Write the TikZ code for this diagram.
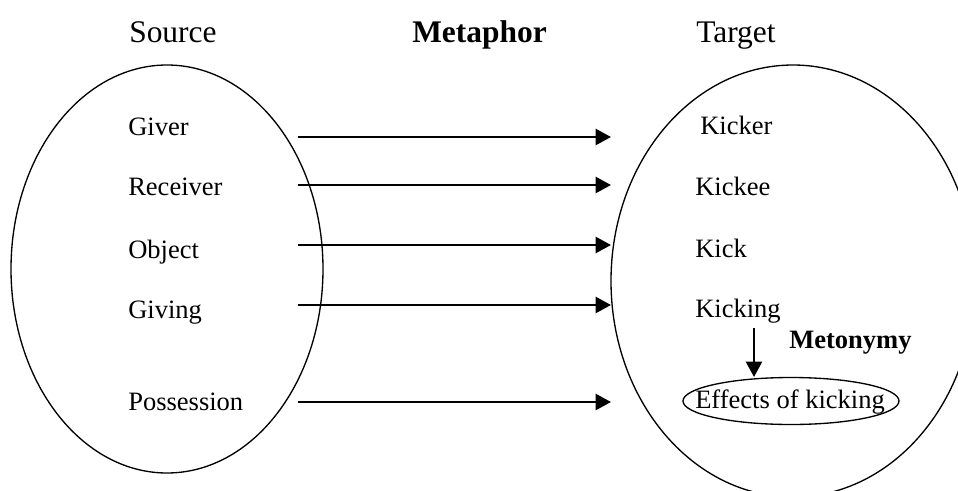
\documentclass[tikz,border=0pt]{standalone}
\usepackage{fontspec}
\setmainfont{Liberation Serif}
\usetikzlibrary{arrows.meta}

\tikzset{
  item/.style={anchor=base west, inner sep=0pt, font=\fontsize{19.9}{24}\selectfont},
  heading/.style={anchor=base west, inner sep=0pt, font=\fontsize{23.6}{28}\selectfont},
  mapping/.style={-{Triangle[length=11.5pt,width=12pt]}, line width=1.8pt},
  rim/.style={line width=1pt},
}

\begin{document}
\begin{tikzpicture}[x=0.75pt,y=-0.75pt]
    \useasboundingbox (0,0) rectangle (958,490);
    \clip (0,0) rectangle (958,490);

    % headings
    \node[heading] (source) at (129,42) {Source};
    \node[heading] (metaphor) at (412,42) {\textbf{Metaphor}};
    \node[heading] (target) at (696,42) {Target};

    % the two domains
    \draw[rim] (167,269) ellipse [x radius=156, y radius=204];
    \draw[rim] (793,281) ellipse [x radius=182, y radius=216];

    % source side
    \node[item] (giver) at (128,135) {Giver};
    \node[item] (receiver) at (128,195) {Receiver};
    \node[item] (object) at (128,258) {Object};
    \node[item] (giving) at (128,318) {Giving};
    \node[item] (possession) at (128,410) {Possession};

    % target side
    \node[item] (kicker) at (700,134) {Kicker};
    \node[item] (kickee) at (695,195) {Kickee};
    \node[item] (kick) at (695,257) {Kick};
    \node[item] (kicking) at (695,317) {Kicking};
    \node[item] (effects) at (695,408) {Effects of kicking};
    \draw[rim] (791,401) ellipse [x radius=108, y radius=23.5];
    \node[item] (metonymy) at (789,348) {\textbf{Metonymy}};

    % metaphorical mappings
    \foreach \n/\y in {1/137, 2/185, 3/245, 4/305, 5/402} {
        \coordinate (from\n) at (298,\y);
        \coordinate (to\n) at (611,\y);
        \draw[mapping] (from\n) -- (to\n);
    }

    % metonymic step
    \coordinate (mtop) at (754,328);
    \coordinate (mbot) at (754,377);
    \draw[mapping] (mtop) -- (mbot);
\end{tikzpicture}
\end{document}
